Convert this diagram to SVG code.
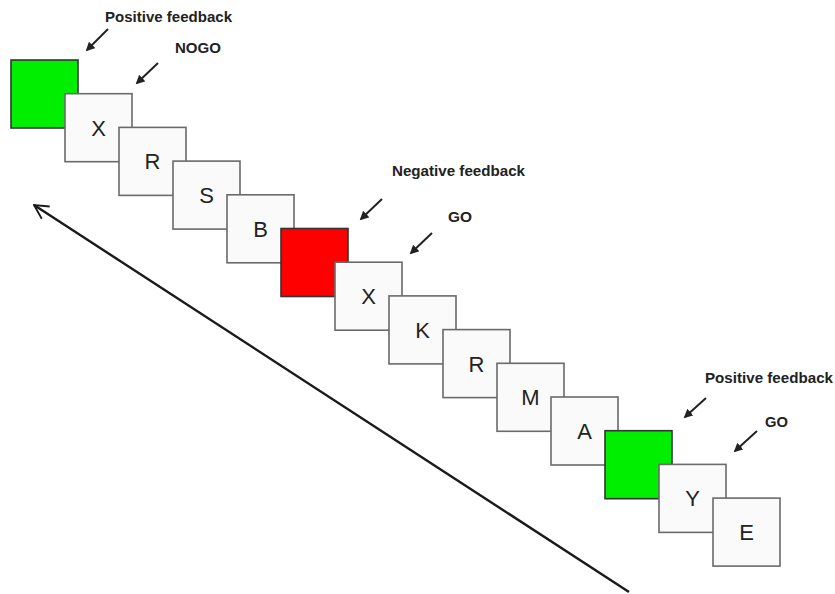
<svg xmlns="http://www.w3.org/2000/svg" width="835" height="594" viewBox="0 0 835 594">
  <style>
    .card { fill: #fafafa; stroke: #6a6a6a; stroke-width: 1.6; }
    .go-green { fill: #00ee00; stroke: #333; stroke-width: 1.6; }
    .stop-red { fill: #ff0000; stroke: #333; stroke-width: 1.6; }
    .letter { font-family: "Liberation Sans", Arial, sans-serif; font-size: 22px; fill: #222; text-anchor: middle; }
    .label { font-family: "Liberation Sans", Arial, sans-serif; font-weight: bold; font-size: 15px; fill: #222; }
    .pointer { stroke: #222; stroke-width: 2; fill: none; marker-end: url(#head); }
    .timeline { stroke: #1a1a1a; stroke-width: 2.4; fill: none; marker-end: url(#openHead); }
  </style>
  <defs>
    <marker id="head" viewBox="0 0 10 10" refX="8" refY="5" markerWidth="4.5" markerHeight="4.5" orient="auto">
      <path d="M0,0 L10,5 L0,10 Z" fill="#222"/>
    </marker>
    <marker id="openHead" viewBox="0 0 12 12" refX="11" refY="6" markerWidth="7" markerHeight="7" orient="auto" markerUnits="strokeWidth">
      <path d="M1,0.8 L11,6 L1,11.2" fill="none" stroke="#1a1a1a" stroke-width="1.3"/>
    </marker>
  </defs>

  <!-- stimulus sequence, each card overlapping the previous one -->
  <g id="s0"><rect class="go-green" x="11" y="60" width="67" height="68"/></g>
  <g id="s1"><rect class="card" x="65" y="93.7" width="67" height="68"/><text class="letter" x="98.5" y="135.7">X</text></g>
  <g id="s2"><rect class="card" x="119" y="127.4" width="67" height="68"/><text class="letter" x="152.5" y="169.4">R</text></g>
  <g id="s3"><rect class="card" x="173" y="161.1" width="67" height="68"/><text class="letter" x="206.5" y="203.1">S</text></g>
  <g id="s4"><rect class="card" x="227" y="194.8" width="67" height="68"/><text class="letter" x="260.5" y="236.8">B</text></g>
  <g id="s5"><rect class="stop-red" x="281" y="228.5" width="67" height="68"/></g>
  <g id="s6"><rect class="card" x="335" y="262.2" width="67" height="68"/><text class="letter" x="368.5" y="304.2">X</text></g>
  <g id="s7"><rect class="card" x="389" y="295.9" width="67" height="68"/><text class="letter" x="422.5" y="337.9">K</text></g>
  <g id="s8"><rect class="card" x="443" y="329.6" width="67" height="68"/><text class="letter" x="476.5" y="371.6">R</text></g>
  <g id="s9"><rect class="card" x="497" y="363.3" width="67" height="68"/><text class="letter" x="530.5" y="405.3">M</text></g>
  <g id="s10"><rect class="card" x="551" y="397" width="67" height="68"/><text class="letter" x="584.5" y="439">A</text></g>
  <g id="s11"><rect class="go-green" x="605" y="430.7" width="67" height="68"/></g>
  <g id="s12"><rect class="card" x="659" y="464.4" width="67" height="68"/><text class="letter" x="692.5" y="506.4">Y</text></g>
  <g id="s13"><rect class="card" x="713" y="498.1" width="67" height="68"/><text class="letter" x="746.5" y="540.1">E</text></g>

  <!-- annotations -->
  <g id="labels">
    <text class="label" x="105" y="22" textLength="127" lengthAdjust="spacingAndGlyphs">Positive feedback</text>
    <text class="label" x="175" y="53" textLength="46" lengthAdjust="spacingAndGlyphs">NOGO</text>
    <text class="label" x="392" y="176" textLength="133" lengthAdjust="spacingAndGlyphs">Negative feedback</text>
    <text class="label" x="448" y="222" textLength="24" lengthAdjust="spacingAndGlyphs">GO</text>
    <text class="label" x="705" y="383" textLength="128" lengthAdjust="spacingAndGlyphs">Positive feedback</text>
    <text class="label" x="765" y="427" textLength="23" lengthAdjust="spacingAndGlyphs">GO</text>
  </g>

  <!-- connectors -->
  <g id="connectors">
    <line class="pointer" x1="108" y1="29" x2="87" y2="50"/>
    <line class="pointer" x1="158" y1="63" x2="137" y2="83"/>
    <line class="pointer" x1="382" y1="199" x2="361" y2="219"/>
    <line class="pointer" x1="432" y1="233" x2="411" y2="253"/>
    <line class="pointer" x1="706" y1="398" x2="685" y2="417"/>
    <line class="pointer" x1="757" y1="431" x2="735" y2="451"/>
    <line class="timeline" x1="629" y1="592" x2="34" y2="205"/>
  </g>
</svg>
